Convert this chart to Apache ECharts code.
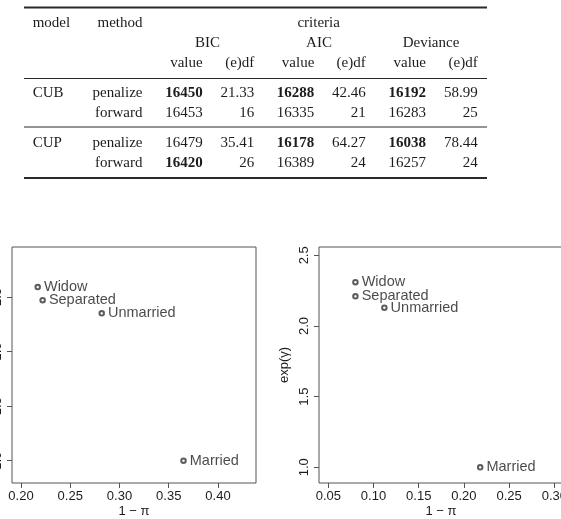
<!DOCTYPE html>
<html>
<head>
<meta charset="utf-8">
<script src="https://cdn.jsdelivr.net/npm/echarts@6/dist/echarts.min.js"></script>
<style>
  html, body { margin: 0; padding: 0; background: #fff; }
  #main { width: 561px; height: 519px; }
</style>
</head>
<body>
<div id="main"></div>
<script>
// ---- table data ----
const criteria = ['BIC', 'AIC', 'Deviance'];
const models = ['CUB', '', 'CUP', ''];
const methods = ['penalize', 'forward', 'penalize', 'forward'];
const bicValue = [16450, 16453, 16479, 16420];
const bicDf = ['21.33', '16', '35.41', '26'];
const aicValue = [16288, 16335, 16178, 16389];
const aicDf = ['42.46', '21', '64.27', '24'];
const devValue = [16192, 16283, 16038, 16257];
const devDf = ['58.99', '25', '78.44', '24'];

// ---- scatter data ----
const groups = ['Widow', 'Separated', 'Unmarried', 'Married'];
const leftX = [0.217, 0.222, 0.282, 0.365];
const leftY = [2.59, 2.47, 2.35, 1.0];
const rightX = [0.080, 0.080, 0.112, 0.218];
const rightY = [2.31, 2.21, 2.13, 1.0];
const leftXTicks = [0.20, 0.25, 0.30, 0.35, 0.40];
const rightXTicks = [0.05, 0.10, 0.15, 0.20, 0.25, 0.30];
const yTicks = [1.0, 1.5, 2.0, 2.5];

const serif = '"Liberation Serif", "DejaVu Serif", serif';
const sans = '"Liberation Sans", Arial, sans-serif';
const ink = '#1c1c1c';

// table layout
const rowY = [93.5, 113.3, 143, 163];
const colRight = [202.7, 254.3, 314.3, 365.7, 426, 477.7];
const colCenter = [207.5, 319, 431];
const valueCols = [bicValue, aicValue, devValue];
const dfCols = [bicDf, aicDf, devDf];

const graphic = [];
function txt(s, x, y, align, bold) {
  graphic.push({
    type: 'text', x: x, y: y,
    style: {
      text: s, textAlign: align, textVerticalAlign: 'middle',
      font: (bold ? 'bold ' : '') + '15px ' + serif, fill: ink
    }
  });
}
function rule(y, w) {
  graphic.push({
    type: 'line',
    shape: { x1: 24, y1: y, x2: 487, y2: y },
    style: { stroke: '#2a2a2a', lineWidth: w }
  });
}
rule(7.5, 2); rule(78.5, 1); rule(127, 1); rule(178, 2);
txt('model', 32.7, 23, 'left');
txt('method', 142.5, 23, 'right');
txt('criteria', 318.7, 23, 'center');
criteria.forEach((c, i) => {
  txt(c, colCenter[i], 43, 'center');
  txt('value', colRight[2 * i], 63, 'right');
  txt('(e)df', colRight[2 * i + 1], 63, 'right');
});
rowY.forEach((y, r) => {
  if (models[r]) txt(models[r], 32.7, y, 'left');
  txt(methods[r], 142.5, y, 'right');
  valueCols.forEach((vals, i) => {
    const pair = r < 2 ? [vals[0], vals[1]] : [vals[2], vals[3]];
    const best = vals[r] === Math.min(pair[0], pair[1]);
    txt(String(vals[r]), colRight[2 * i], y, 'right', best);
    txt(dfCols[i][r], colRight[2 * i + 1], y, 'right');
  });
});

const frame = '#555';
function xAxis(idx, min, max, ticks) {
  return {
    type: 'value', gridIndex: idx, min: min, max: max,
    name: '1 \u2212 \u03c0', nameLocation: 'middle', nameGap: 22,
    nameTextStyle: { fontFamily: sans, fontSize: 13, color: ink },
    splitLine: { show: false },
    axisLine: { show: false },
    axisTick: { show: true, length: 5, customValues: ticks, lineStyle: { color: frame } },
    axisLabel: {
      customValues: ticks, margin: 7, fontFamily: sans, fontSize: 13, color: ink,
      formatter: v => v.toFixed(2)
    }
  };
}
function yAxis(idx, min, max, name) {
  return {
    type: 'value', gridIndex: idx, min: min, max: max,
    name: name, nameLocation: 'middle', nameGap: 28, nameRotate: 90,
    nameTextStyle: { fontFamily: sans, fontSize: 13, color: ink },
    splitLine: { show: false },
    axisLine: { show: false },
    axisTick: { show: true, length: 5, customValues: yTicks, lineStyle: { color: frame } },
    axisLabel: {
      customValues: yTicks, rotate: 90, margin: 8, fontFamily: sans, fontSize: 13, color: ink,
      formatter: v => v.toFixed(1)
    }
  };
}
function scatter(idx, xs, ys) {
  return {
    type: 'scatter', xAxisIndex: idx, yAxisIndex: idx,
    symbol: 'emptyCircle', symbolSize: 4.5,
    itemStyle: { color: '#333', borderWidth: 1 },
    label: {
      show: true, position: 'right', distance: 3,
      fontFamily: sans, fontSize: 14.5, color: ink,
      formatter: p => p.data[2]
    },
    data: groups.map((g, i) => [xs[i], ys[i], g])
  };
}

const chart = echarts.init(document.getElementById('main'));
chart.setOption({
  animation: false,
  backgroundColor: '#fff',
  grid: [
    { left: 12, top: 247, width: 244, height: 236, show: true, borderColor: frame, borderWidth: 1, outerBoundsMode: 'none', containLabel: false },
    { left: 319, top: 247, width: 244, height: 236, show: true, borderColor: frame, borderWidth: 1, outerBoundsMode: 'none', containLabel: false }
  ],
  xAxis: [xAxis(0, 0.1909, 0.4386, leftXTicks), xAxis(1, 0.0397, 0.3096, rightXTicks)],
  yAxis: [yAxis(0, 0.796, 2.957, ''), yAxis(1, 0.889, 2.559, 'exp(\u03b3)')],
  series: [scatter(0, leftX, leftY), scatter(1, rightX, rightY)],
  graphic: graphic
});
</script>
</body>
</html>
